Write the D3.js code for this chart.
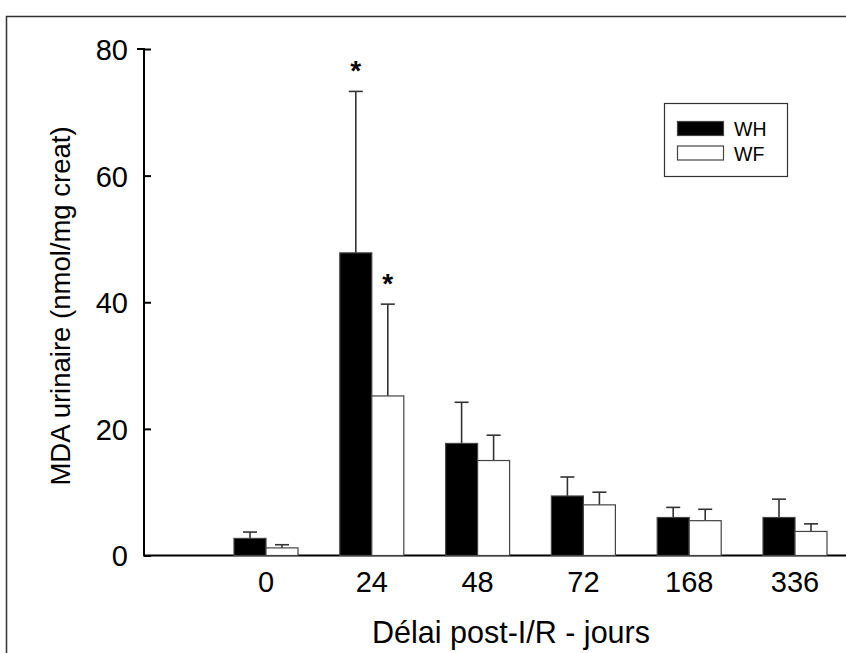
<!DOCTYPE html>
<html>
<head>
<meta charset="utf-8">
<script src="https://cdn.jsdelivr.net/npm/d3@7/dist/d3.min.js"></script>
<style>
  html, body { margin: 0; padding: 0; background: #fff; }
  svg { display: block; font-family: Arial, "Liberation Sans", sans-serif; }
</style>
</head>
<body>
<svg id="chart" width="846" height="653"></svg>
<script>
// Urinary MDA by delay after ischemia/reperfusion
const categories = ["0", "24", "48", "72", "168", "336"];
const seriesNames = ["WH", "WF"];
const whMean = [2.7, 47.8, 17.7, 9.4, 6.0, 6.0];
const whErr  = [1.0, 25.5, 6.5, 3.0, 1.6, 2.9];
const wfMean = [1.2, 25.2, 15.0, 8.0, 5.5, 3.8];
const wfErr  = [0.5, 14.5, 4.0, 2.0, 1.8, 1.2];
const significant = [[false, true, false, false, false, false],
                     [false, true, false, false, false, false]];
const yTicks = [0, 20, 40, 60, 80];

const FONT = "Arial, 'Liberation Sans', sans-serif";
const svg = d3.select("#chart");

// outer frame
svg.append("rect")
  .attr("x", 6.5).attr("y", 16.5)
  .attr("width", 860).attr("height", 660)
  .attr("fill", "none").attr("stroke", "#333").attr("stroke-width", 1.5);

const y = d3.scaleLinear().domain([0, 80]).range([555.5, 49]);
const x = d3.scalePoint().domain(categories).range([266, 795]);
const barW = 32;
const fills = ["#000", "#fff"];
const means = [whMean, wfMean];
const errs = [whErr, wfErr];

// y axis with inward ticks
const yAxis = svg.append("g")
  .attr("transform", "translate(144,0)")
  .call(d3.axisLeft(y).tickValues(yTicks).tickSize(-7).tickPadding(16));
yAxis.select(".domain").attr("stroke-width", 2).attr("d", `M-7,${y(80)}H0V${y(0)}`);
yAxis.selectAll(".tick line").attr("stroke-width", 2);
yAxis.selectAll(".tick text")
  .attr("font-size", 29).attr("font-family", FONT).attr("fill", "#000")
  .attr("dy", "0.36em");

// x baseline and category labels
svg.append("line")
  .attr("x1", 143).attr("x2", 846)
  .attr("y1", y(0)).attr("y2", y(0))
  .attr("stroke", "#000").attr("stroke-width", 2);
svg.append("g").selectAll("text")
  .data(categories).join("text")
  .attr("x", d => x(d)).attr("y", 582)
  .attr("text-anchor", "middle").attr("dominant-baseline", "central")
  .attr("font-size", 29).text(d => d);

// bars, error bars and significance marks
seriesNames.forEach((s, si) => {
  const g = svg.append("g");
  const xs = c => x(c) + (si === 0 ? -barW : 0);
  // error bar (upper only)
  g.selectAll("line.err").data(categories).join("line")
    .attr("class", "err")
    .attr("x1", c => xs(c) + barW / 2).attr("x2", c => xs(c) + barW / 2)
    .attr("y1", (c, i) => y(means[si][i])).attr("y2", (c, i) => y(means[si][i] + errs[si][i]))
    .attr("stroke", "#333").attr("stroke-width", 1.6);
  g.selectAll("line.cap").data(categories).join("line")
    .attr("class", "cap")
    .attr("x1", c => xs(c) + barW / 2 - 7).attr("x2", c => xs(c) + barW / 2 + 7)
    .attr("y1", (c, i) => y(means[si][i] + errs[si][i])).attr("y2", (c, i) => y(means[si][i] + errs[si][i]))
    .attr("stroke", "#333").attr("stroke-width", 1.6);
  g.selectAll("rect").data(categories).join("rect")
    .attr("x", c => xs(c)).attr("width", barW)
    .attr("y", (c, i) => y(means[si][i]))
    .attr("height", (c, i) => y(0) - y(means[si][i]))
    .attr("fill", fills[si]).attr("stroke", "#444").attr("stroke-width", 1.2);
  g.selectAll("text").data(categories.filter((c, i) => significant[si][i])).join("text")
    .attr("x", c => xs(c) + barW / 2)
    .attr("y", c => { const i = categories.indexOf(c); return y(means[si][i] + errs[si][i]) - 11; })
    .attr("text-anchor", "middle")
    .attr("font-size", 28).attr("font-weight", "bold").text("*");
});

// axis titles
svg.append("text")
  .attr("transform", "translate(60,306) rotate(-90)")
  .attr("text-anchor", "middle").attr("dominant-baseline", "central")
  .attr("font-size", 27.5).text("MDA urinaire (nmol/mg creat)");
svg.append("text")
  .attr("x", 511).attr("y", 632)
  .attr("text-anchor", "middle").attr("dominant-baseline", "central")
  .attr("font-size", 30.5).text("Délai post-I/R - jours");

// legend
const lg = svg.append("g");
lg.append("rect").attr("x", 664.5).attr("y", 103.5).attr("width", 123).attr("height", 73)
  .attr("fill", "#fff").attr("stroke", "#333").attr("stroke-width", 1.2);
seriesNames.forEach((s, si) => {
  lg.append("rect").attr("x", 677.5).attr("y", 121.5 + si * 24.5)
    .attr("width", 46).attr("height", 14)
    .attr("fill", fills[si]).attr("stroke", "#444").attr("stroke-width", 1.2);
  lg.append("text").attr("x", 734).attr("y", 129 + si * 24.5)
    .attr("dominant-baseline", "central").attr("font-size", 19.5).text(s);
});
</script>
</body>
</html>
